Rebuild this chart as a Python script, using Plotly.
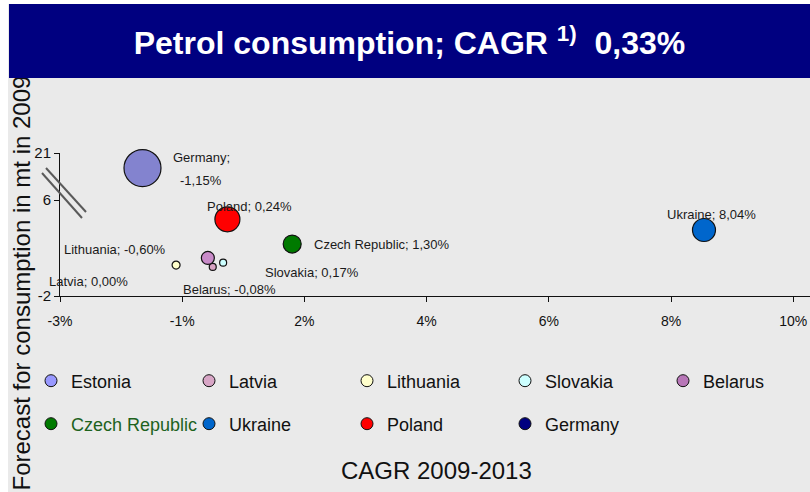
import plotly.graph_objects as go

# ---------------- data ----------------
countries = ["Latvia", "Lithuania", "Slovakia", "Belarus",
             "Czech Republic", "Ukraine", "Poland", "Germany"]
cagr_pct = [0.00, -0.60, 0.17, -0.08, 1.30, 8.04, 0.24, -1.15]          # CAGR 2009-2013, %
consumption_mt = [0.42, 0.58, 0.78, 1.17, 2.33, 3.50, 4.39, 16.2]        # 2009, mt

legend_row1 = ["Estonia", "Latvia", "Lithuania", "Slovakia", "Belarus"]
legend_row2 = ["Czech Republic", "Ukraine", "Poland", "Germany"]

x_tick_vals = [-2.5, -0.5, 1.5, 3.5, 5.5, 7.5, 9.5]
x_tick_text = ["-3%", "-1%", "2%", "4%", "6%", "8%", "10%"]
y_low_ticks = [-2, 6]          # lower segment of the broken axis
y_high_ticks = [21]            # upper segment of the broken axis
y_break = 6

title_text = "Petrol consumption; CAGR <sup>1)</sup>&nbsp; 0,33%"
x_title = "CAGR 2009-2013"
y_title = "Forecast for consumption in mt in 2009"

# ---------------- styles ----------------
SANS = "Liberation Sans, Arial, sans-serif"
BG = "#eaeaea"
NAVY = "#000080"

bubble_color = {"Latvia": "#d9a3c3", "Lithuania": "#ffffcc", "Slovakia": "#ccffff",
                "Belarus": "#c98bc9", "Czech Republic": "#007a00", "Ukraine": "#0066cc",
                "Poland": "#ff0000", "Germany": "#8383cf"}
bubble_px = {"Latvia": 7, "Lithuania": 8, "Slovakia": 7, "Belarus": 13,
             "Czech Republic": 18, "Ukraine": 23, "Poland": 25, "Germany": 37}
legend_color = {"Estonia": "#9999ff", "Latvia": "#d8a6c6", "Lithuania": "#ffffcc",
                "Slovakia": "#ccffff", "Belarus": "#b877b8", "Czech Republic": "#007a00",
                "Ukraine": "#0066cc", "Poland": "#ff0000", "Germany": NAVY}
legend_text_color = {"Czech Republic": "#1d621d"}

# label placement relative to the bubble: (xanchor, xshift px, yshift px)
label_offset = {"Latvia": [("center", -124, -15)],
                "Lithuania": [("right", -8, 16)],
                "Slovakia": [("center", 89, -10)],
                "Belarus": [("center", 22, -32)],
                "Czech Republic": [("left", 20, 0)],
                "Ukraine": [("center", 8, 16)],
                "Poland": [("center", 22, 13)],
                "Germany": [("left", 29, 11), ("left", 36, -12)]}

# ---------------- layout geometry (px) ----------------
W, H = 810, 492
ML, MR, MT, MB = 60, 0, 153, 196
PW, PH = W - ML - MR, H - MT - MB
LOW_PX = 96                       # height of the lower (-2..6) segment
X_PER_UNIT = 61.1


def px_x(px):
    return (px - ML) / PW


def px_y(py):
    return (H - MB - py) / PH


def pct(v):
    return f"{v:.2f}".replace(".", ",") + "%"


fig = go.Figure()

annotations = []
for name, cx, cy in zip(countries, cagr_pct, consumption_mt):
    yaxis = "y2" if cy > y_break else "y"
    fig.add_trace(go.Scatter(
        x=[cx], y=[cy], yaxis=yaxis, mode="markers", name=name, showlegend=False,
        cliponaxis=False, hoverinfo="skip",
        marker=dict(size=bubble_px[name], color=bubble_color[name], opacity=1,
                    line=dict(color="#111111", width=1.2)),
    ))
    parts = [f"{name}; {pct(cx)}"] if len(label_offset[name]) == 1 else [f"{name};", pct(cx)]
    for text, (xa, dx, dy) in zip(parts, label_offset[name]):
        annotations.append(dict(
            x=cx, y=cy, xref="x", yref=yaxis, text=text, showarrow=False,
            xanchor=xa, yanchor="middle", xshift=dx, yshift=dy,
            font=dict(family=SANS, size=13, color="#1a1a1a"),
        ))

# legend entries (two rows, one legend each)
for row, legend_id in ((legend_row1, "legend"), (legend_row2, "legend2")):
    for name in row:
        label = name
        if name in legend_text_color:
            label = f"<span style='color:{legend_text_color[name]}'>{name}</span>"
        fig.add_trace(go.Scatter(
            x=[None], y=[None], mode="markers", name=label, legend=legend_id,
            marker=dict(size=12, color=legend_color[name],
                        line=dict(color="#111111", width=1)),
        ))

# axis titles and the title banner (banner last so it sits on top)
annotations.append(dict(
    x=px_x(436), y=px_y(470), xref="paper", yref="paper", text=x_title,
    showarrow=False, xanchor="center", yanchor="middle",
    font=dict(family=SANS, size=24, color="#111111")))
annotations.append(dict(
    x=px_x(21), y=px_y(493), xref="paper", yref="paper", text=y_title,
    showarrow=False, textangle=-90, xanchor="center", yanchor="bottom",
    font=dict(family=SANS, size=24, color="#111111")))
annotations.append(dict(
    x=px_x(409.5), y=px_y(41), xref="paper", yref="paper", text=title_text,
    showarrow=False, xanchor="center", yanchor="middle", width=801, height=74,
    bgcolor=NAVY, borderpad=0, borderwidth=0,
    font=dict(family=SANS, size=32, color="white", weight="bold")))

shapes = [
    # white page margin left and top
    dict(type="rect", xref="paper", yref="paper", x0=px_x(0), x1=px_x(8),
         y0=px_y(H), y1=px_y(0), fillcolor="white", line=dict(width=0), layer="below"),
    dict(type="rect", xref="paper", yref="paper", x0=px_x(0), x1=px_x(W),
         y0=px_y(4), y1=px_y(0), fillcolor="white", line=dict(width=0), layer="below"),
    # axis break marks
    dict(type="line", xref="paper", yref="paper", x0=px_x(46), y0=px_y(168),
         x1=px_x(86), y1=px_y(212), line=dict(color="#5a5a5a", width=2)),
    dict(type="line", xref="paper", yref="paper", x0=px_x(42), y0=px_y(173),
         x1=px_x(82), y1=px_y(218), line=dict(color="#5a5a5a", width=2)),
]

axis_common = dict(showline=True, linecolor="#111111", linewidth=1, ticks="outside",
                   ticklen=5, tickcolor="#111111", showgrid=False, zeroline=False)

legend_common = dict(orientation="h", xanchor="left", yanchor="middle",
                     entrywidth=113, entrywidthmode="pixels", bgcolor="rgba(0,0,0,0)",
                     font=dict(family=SANS, size=18, color="#111111"),
                     itemsizing="trace", traceorder="normal", itemclick=False)

fig.update_layout(
    width=W, height=H,
    margin=dict(l=ML, r=MR, t=MT, b=MB, autoexpand=False),
    paper_bgcolor=BG, plot_bgcolor=BG,
    showlegend=True,
    xaxis=dict(range=[-2.5, -2.5 + PW / X_PER_UNIT], tickvals=x_tick_vals,
               ticktext=x_tick_text, ticklabelstandoff=7,
               tickfont=dict(family=SANS, size=14, color="#111111"), **axis_common),
    yaxis=dict(domain=[0, LOW_PX / PH], range=[-2, y_break], tickvals=y_low_ticks,
               ticktext=[str(v) for v in y_low_ticks],
               tickfont=dict(family=SANS, size=15, color="#111111"), **axis_common),
    yaxis2=dict(domain=[LOW_PX / PH, 1], range=[y_break, 21], tickvals=y_high_ticks,
                ticktext=[str(v) for v in y_high_ticks], anchor="x",
                tickfont=dict(family=SANS, size=15, color="#111111"), **axis_common),
    legend=dict(x=px_x(31), y=px_y(381), **legend_common),
    legend2=dict(x=px_x(31), y=px_y(424), **legend_common),
    annotations=annotations,
    shapes=shapes,
)

fig.write_html("out.html")
